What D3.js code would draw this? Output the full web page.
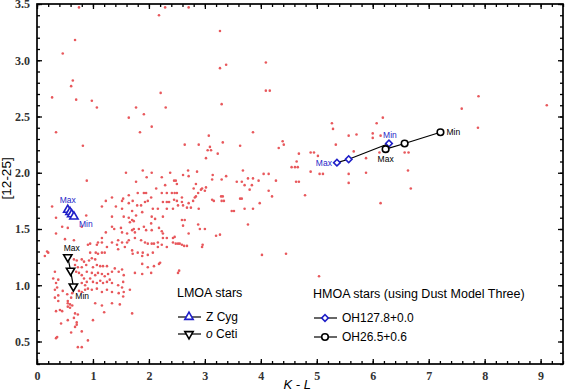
<!DOCTYPE html>
<html>
<head>
<meta charset="utf-8">
<script src="https://cdn.jsdelivr.net/npm/d3@7/dist/d3.min.js"></script>
<style>
  body { margin: 0; background: #fff; }
  text { font-family: "Liberation Sans", Arial, sans-serif; }
</style>
</head>
<body>
<div id="chart"></div>
<script>

// background sample: [K-L, 12-25 colour]
const fieldStars = [
  [0.75,3.47],[0.68,3.18],[0.46,3.06],[0.64,2.82],[0.61,2.77],[0.27,2.67],[0.70,2.65],[0.98,2.64],
  [1.07,2.58],[0.34,2.36],[0.82,2.24],[0.89,1.93],[1.77,2.58],[1.64,2.49],[1.91,2.52],[1.84,2.36],
  [2.05,2.41],[2.18,3.40],[2.29,3.47],[2.21,2.71],[2.30,2.58],[2.64,2.25],[2.89,2.25],[2.71,3.47],
  [3.27,3.26],[3.27,2.93],[3.38,2.96],[4.09,2.98],[4.09,2.73],[4.16,2.73],[3.30,2.61],[5.27,2.44],
  [5.29,2.39],[3.86,2.36],[3.07,2.33],[3.32,2.27],[3.63,2.24],[4.39,2.28],[4.41,2.25],[4.32,2.22],
  [3.05,2.20],[3.11,2.20],[3.23,2.17],[3.02,2.13],[4.68,2.17],[4.64,2.10],[4.89,2.18],[4.95,2.18],
  [5.34,2.25],[5.57,2.33],[5.71,2.34],[6.00,2.35],[6.00,2.31],[6.07,2.44],[6.18,2.49],[6.14,2.33],
  [5.66,2.19],[5.88,2.13],[6.12,2.18],[6.57,2.18],[6.64,2.18],[6.63,2.02],[6.68,1.86],[6.14,1.73],
  [7.59,2.57],[9.11,2.60],[7.88,2.40],[7.89,2.68],[4.55,2.05],[4.61,2.05],[4.66,2.05],[4.89,2.01],
  [5.05,1.99],[5.11,1.99],[5.02,2.15],[5.57,1.99],[5.57,1.91],[5.88,2.00],[4.63,1.92],[4.68,1.92],
  [4.79,1.80],[5.04,1.08],[4.02,1.27],[4.45,1.28],[2.54,1.13],[2.52,1.11],[3.98,1.73],[3.77,1.54],
  [1.59,2.00],[1.77,1.92],[1.89,2.02],[1.96,1.96],[2.05,2.00],[2.23,1.96],[2.38,2.00],[2.45,1.93],
  [2.48,1.93],[2.29,1.89],[2.50,1.90],[2.61,1.98],[2.70,2.02],[2.71,1.97],[2.86,2.01],[2.84,1.90],
  [2.13,1.86],[2.23,1.82],[2.41,1.82],[2.46,1.82],[1.91,1.82],[1.95,1.82],[1.80,1.82],[1.64,1.80],
  [1.34,1.78],[1.54,1.77],[2.80,1.86],[2.88,1.82],[3.14,1.98],[3.38,1.97],[3.13,1.94],[3.30,1.94],
  [3.68,2.02],[3.57,1.92],[3.66,1.92],[3.77,1.95],[3.86,1.95],[3.96,1.93],[4.05,1.99],[4.14,1.99],
  [4.27,1.93],[3.71,1.89],[3.84,1.89],[3.80,1.85],[2.93,1.85],[3.00,1.84],[4.14,1.84],[4.20,1.79],
  [3.29,1.79],[3.66,1.77],[2.84,1.79],[2.95,1.86],[3.02,1.87],[3.13,1.76],[3.16,1.75],[3.32,1.79],
  [3.30,1.75],[3.34,1.75],[3.63,1.77],[3.48,1.66],[3.52,1.66],[3.71,1.68],[3.86,1.68],[2.32,1.82],
  [2.50,1.82],[2.25,1.74],[2.32,1.74],[2.36,1.74],[2.45,1.76],[2.50,1.75],[2.59,1.78],[2.59,1.74],
  [2.71,1.73],[2.82,1.78],[2.79,1.75],[2.68,1.69],[2.75,1.69],[2.89,1.68],[2.32,1.68],[2.43,1.68],
  [2.52,1.71],[2.61,1.71],[2.25,1.61],[2.59,1.58],[2.64,1.58],[2.61,1.53],[2.88,1.54],[2.91,1.50],
  [3.00,1.50],[2.71,1.46],[3.20,1.44],[3.27,1.45],[2.25,1.46],[2.25,1.42],[2.32,1.42],[2.43,1.42],
  [2.46,1.43],[2.43,1.38],[2.52,1.37],[2.59,1.36],[2.63,1.35],[2.68,1.35],[2.96,1.36],[2.95,1.34],
  [3.09,2.23],
  [0.27,1.70],[0.34,1.60],[0.45,1.52],[0.55,1.51],[0.34,1.46],[0.50,1.41],[0.66,1.40],[0.88,1.62],
  [0.80,1.52],[1.23,1.75],[1.16,1.70],[1.41,1.70],[1.52,1.75],[1.71,1.75],[1.64,1.73],[1.79,1.71],
  [1.86,1.71],[1.93,1.74],[1.98,1.75],[2.04,1.78],[2.07,1.68],[2.16,1.68],[1.52,1.68],[1.70,1.66],
  [1.34,1.61],[1.55,1.61],[1.64,1.60],[1.70,1.58],[1.73,1.57],[1.66,1.56],[1.77,1.62],[1.88,1.65],
  [2.05,1.61],[2.11,1.59],[1.34,1.52],[1.38,1.50],[1.23,1.47],[1.50,1.51],[1.52,1.47],[1.61,1.46],
  [1.70,1.49],[1.73,1.50],[1.75,1.47],[1.82,1.50],[1.91,1.52],[1.95,1.49],[2.04,1.55],[2.05,1.49],
  [2.18,1.51],[2.23,1.48],[1.16,1.42],[1.09,1.38],[1.34,1.38],[1.45,1.40],[1.61,1.38],[1.64,1.40],
  [1.75,1.42],[1.86,1.40],[1.93,1.38],[1.98,1.37],[2.09,1.37],[2.16,1.38],[0.95,1.37],
  [0.20,1.29],[0.14,1.26],[0.38,1.05],[0.34,1.02],[0.32,0.96],[0.38,0.86],[0.41,0.78],[0.34,0.77],
  [0.45,0.77],[0.43,0.66],[0.34,0.53],[0.55,0.86],[0.55,0.84],[0.59,0.83],[0.63,0.82],[0.55,0.81],
  [0.59,0.80],[0.54,0.92],[0.63,0.93],[0.61,0.89],[0.46,0.95],[0.68,0.75],[0.73,0.74],[0.66,0.71],
  [0.71,0.67],[0.68,0.63],[0.80,0.59],[0.73,0.45],[0.80,0.45],[0.91,0.51],[0.66,1.23],[0.71,1.22],
  [0.68,1.18],[0.73,1.16],[0.70,1.12],[0.75,1.11],[0.80,1.23],[0.84,1.21],[0.88,1.18],[0.80,1.16],
  [0.89,1.12],[0.80,1.09],[0.84,1.06],[0.89,1.03],[0.80,1.02],[0.86,1.00],[0.75,0.95],[0.80,0.94],
  [0.86,0.96],[0.91,0.97],[0.93,1.22],[0.98,1.24],[1.04,1.23],[1.05,1.29],[1.09,1.28],[1.16,1.29],
  [1.21,1.29],[1.00,1.16],[1.07,1.18],[1.13,1.17],[1.18,1.17],[1.25,1.17],[0.98,1.11],[1.04,1.09],
  [1.09,1.11],[1.16,1.10],[1.21,1.08],[1.27,1.10],[0.95,1.06],[1.00,1.03],[1.07,1.02],[1.13,1.04],
  [1.18,1.02],[1.25,1.03],[1.30,1.05],[0.98,0.96],[1.07,0.97],[1.16,0.94],[1.25,0.96],[1.34,0.94],
  [1.34,1.12],[1.39,1.15],[1.46,1.12],[1.52,1.14],[1.34,1.02],[1.45,1.00],[1.54,1.03],[1.46,0.93],
  [1.55,0.94],[1.04,0.84],[1.16,0.82],[1.34,0.84],[1.48,0.83],[1.54,0.90],[1.70,0.75],[1.20,0.76],
  [1.00,0.69],[1.07,1.36],[1.16,1.38],[1.25,1.34],[1.43,1.36],[1.52,1.38],[1.57,1.34],[1.45,1.32],
  [0.95,1.29],[0.91,1.36],[1.70,1.31],[1.71,1.28],[1.80,1.29],[1.89,1.29],[1.98,1.27],[2.07,1.29],
  [1.88,1.26],[1.88,1.19],[1.98,1.16],[2.09,1.17],[2.18,1.19],[1.55,1.09],[1.75,1.11],[1.88,1.10],
  [2.04,1.11],[1.52,0.98],[1.66,0.96],[2.05,1.37],[2.16,1.34],[2.23,1.36],[2.32,1.34],[2.48,1.37],
  [2.55,1.37],[2.20,1.20],[0.18,1.30],[0.29,1.06],[0.32,1.12],[0.36,0.98],[0.38,0.91],[0.32,0.89],
  [0.36,0.54],[0.55,0.69],[0.61,0.58],[0.71,0.65]
];

// LMOA stars, Max -> Min
const zCyg  = [[0.55,1.67],[0.59,1.65],[0.62,1.63],[0.66,1.61]];
const oCeti = [[0.55,1.25],[0.60,1.13],[0.65,0.99]];
// HMOA stars, Max -> Min
const oh127 = [[5.36,2.09],[5.57,2.12],[6.29,2.26]];
const oh265 = [[6.23,2.21],[6.57,2.26],[7.21,2.36]];

const xTicks = [0,1,2,3,4,5,6,7,8,9];
const yTicks = [0.5,1.0,1.5,2.0,2.5,3.0,3.5];

const blue = "#1f1fc8";
const dotColor = "#e8585c";

const margin = { top: 4, right: 7, bottom: 26, left: 37 };
const W = 570, H = 390;
const width = W - margin.left - margin.right;
const height = H - margin.top - margin.bottom;

const x = d3.scaleLinear().domain([0, 9.4]).range([0, width]);
const y = d3.scaleLinear().domain([0.3, 3.5]).range([height, 0]);

const svg = d3.select("#chart").append("svg")
  .attr("width", W).attr("height", H)
  .append("g")
  .attr("transform", `translate(${margin.left},${margin.top})`);

// ticks, pointing inward on all four sides
const xMinor = d3.range(0, 9.41, 0.2);
const yMinor = d3.range(0.3, 3.501, 0.1);
function tickAxis(axisFn, scale, major, minor, labels, shift) {
  const g = svg.append("g").attr("transform", shift);
  g.append("g").call(axisFn(scale).tickValues(minor).tickSize(-3).tickFormat(""));
  g.append("g").call(axisFn(scale).tickValues(major).tickSize(-5).tickPadding(labels ? 7 : 0)
    .tickFormat(labels ? labels : ""));
  g.selectAll(".domain").remove();
  g.selectAll("line").attr("stroke", "#000").attr("stroke-width", 1.3);
  g.selectAll("text")
    .style("font-family", "'Liberation Serif', 'Times New Roman', serif")
    .style("font-size", "12px").style("font-weight", "bold").attr("fill", "#333");
  return g;
}
tickAxis(d3.axisBottom, x, xTicks, xMinor, d3.format("d"), `translate(0,${height})`);
tickAxis(d3.axisTop, x, xTicks, xMinor, null, "translate(0,0)");
tickAxis(d3.axisLeft, y, yTicks, yMinor, d3.format(".1f"), "translate(0,0)");
tickAxis(d3.axisRight, y, yTicks, yMinor, null, `translate(${width},0)`);

svg.append("rect")
  .attr("width", width).attr("height", height)
  .attr("fill", "none").attr("stroke", "#000").attr("stroke-width", 1.7);

// axis titles
svg.append("text")
  .attr("x", x(4.65)).attr("y", height + 25)
  .attr("text-anchor", "middle")
  .style("font-size", "13px").style("font-style", "italic")
  .text("K - L");
svg.append("text")
  .attr("transform", `translate(${-26},${y(1.95)}) rotate(-90)`)
  .attr("text-anchor", "middle")
  .style("font-size", "13.5px")
  .text("[12-25]");

// field stars
svg.append("g").selectAll("circle")
  .data(fieldStars)
  .join("circle")
  .attr("cx", d => x(d[0]))
  .attr("cy", d => y(d[1]))
  .attr("r", 1.3)
  .attr("fill", dotColor);

const line = d3.line().x(d => x(d[0])).y(d => y(d[1]));
const triUp = d3.symbol().type(d3.symbolTriangle).size(30);
const triDown = d3.symbol().type(d3.symbolTriangle).size(30);
const diamond = d3.symbol().type(d3.symbolSquare).size(22);
const circle = d3.symbol().type(d3.symbolCircle).size(34);

const series = [
  { name: "Z Cyg", data: zCyg, color: blue, sym: triUp, rot: 0, lbl: blue,
    max: [0, -7, "middle"], min: [5, 10, "start"] },
  { name: "o Ceti", data: oCeti, color: "#000", sym: triDown, rot: 180, lbl: "#000",
    max: [4, -6, "middle"], min: [2, 13, "start"] },
  { name: "OH127.8+0.0", data: oh127, color: blue, sym: diamond, rot: 45, lbl: blue,
    max: [-5, 3, "end"], min: [1, -6, "middle"] },
  { name: "OH26.5+0.6", data: oh265, color: "#000", sym: circle, rot: 0, lbl: "#000",
    max: [0, 13, "middle"], min: [6, 3, "start"] }
];

series.forEach(s => {
  svg.append("path").datum(s.data)
    .attr("d", line).attr("fill", "none")
    .attr("stroke", "#000").attr("stroke-width", 1.2);
  svg.append("g").selectAll("path")
    .data(s.data).join("path")
    .attr("d", s.sym)
    .attr("transform", d => `translate(${x(d[0])},${y(d[1])}) rotate(${s.rot})`)
    .attr("fill", "#fff").attr("stroke", s.color).attr("stroke-width", 1.6);
  const first = s.data[0], last = s.data[s.data.length - 1];
  [[first, s.max, "Max"], [last, s.min, "Min"]].forEach(([p, o, t]) => {
    svg.append("text")
      .attr("x", x(p[0]) + o[0]).attr("y", y(p[1]) + o[1])
      .attr("text-anchor", o[2])
      .attr("fill", s.lbl)
      .style("font-size", "8.5px")
      .text(t);
  });
});

// legends
function legend(x0, y0, title, items, gap) {
  const g = svg.append("g").attr("transform", `translate(${x0 - margin.left},${y0 - margin.top})`);
  g.append("text").attr("x", 0).attr("y", 0).style("font-size", "12.5px").text(title);
  items.forEach((s, i) => {
    const yy = 24 + i * gap;
    g.append("line").attr("x1", 1).attr("x2", 24).attr("y1", yy - 4).attr("y2", yy - 4)
      .attr("stroke", "#000").attr("stroke-width", 1.2);
    g.append("path").attr("d", s.sym)
      .attr("transform", `translate(12,${yy - 4}) rotate(${s.rot})`)
      .attr("fill", "#fff").attr("stroke", s.color).attr("stroke-width", 1.6);
    const t = g.append("text").attr("x", 29).attr("y", yy).style("font-size", "12px");
    if (s.name === "o Ceti") {
      t.append("tspan").style("font-style", "italic").text("o");
      t.append("tspan").text(" Ceti");
    } else {
      t.text(s.name);
    }
  });
}
legend(177, 297, "LMOA stars", series.slice(0, 2), 17);
legend(313, 298, "HMOA stars (using Dust Model Three)", series.slice(2), 19);

</script>
</body>
</html>
